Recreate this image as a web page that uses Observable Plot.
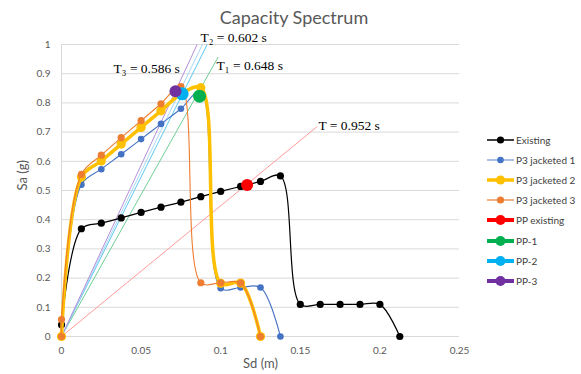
<!DOCTYPE html>
<html><head><meta charset="utf-8">
<script src="https://cdn.jsdelivr.net/npm/d3@7"></script>
<script src="https://cdn.jsdelivr.net/npm/@observablehq/plot@0.6"></script>
<style>
body{margin:0;background:#fff;}
#wrap{position:relative;width:581px;height:374px;font-family:Lato,"Open Sans",sans-serif;}
#title{position:absolute;left:0;width:588px;top:6px;text-align:center;font-size:18px;color:#595959;}
#legend{position:absolute;left:487px;top:130px;font-size:10px;color:#404040;}
.li{height:20.1px;display:flex;align-items:center;}
.li svg{margin-right:2px;}
</style></head>
<body><div id="wrap"><div id="chart"></div><div id="title">Capacity Spectrum</div><div id="legend"></div></div>
<script>
const existingSd = [0,0.0125,0.025,0.0375,0.05,0.0625,0.075,0.0875,0.1,0.1125,0.125,0.1375,0.15,0.1625,0.175,0.1875,0.2,0.2125];
const existingSa = [0.04,0.369,0.388,0.406,0.425,0.443,0.46,0.479,0.497,0.514,0.531,0.55,0.11,0.11,0.11,0.11,0.11,0];
const j1Sd = [0,0.0125,0.025,0.0375,0.05,0.0625,0.075,0.0875,0.1,0.1125,0.125,0.1375];
const j1Sa = [0,0.52,0.573,0.624,0.676,0.728,0.78,0.84,0.165,0.168,0.168,0];
const j2Sd = [0,0.0125,0.025,0.0375,0.05,0.0625,0.075,0.0875,0.1,0.1125,0.125];
const j2Sa = [0,0.546,0.601,0.659,0.716,0.773,0.83,0.852,0.182,0.183,0];
const j3Sd = [0,0,0.0125,0.025,0.0375,0.05,0.0625,0.075,0.0875,0.1,0.1125,0.125];
const j3Sa = [0,0.058,0.555,0.621,0.681,0.739,0.797,0.856,0.184,0.184,0.183,0];
const ppNames = ["PP existing","PP-1","PP-2","PP-3"];
const ppSd = [0.1166,0.0867,0.0758,0.0716];
const ppSa = [0.519,0.823,0.831,0.84];
// period lines: origin to end point
const tlEndSd = [0.1606,0.0984,0.0915,0.0885,0.0852];
const tlEndSa = [0.719,0.957,1.0,1.0,1.0];
const tlColors = ["#ff9a9a","#6fcf97","#5bc8f0","#a9d8f5","#b48fd8"];
const labels = ["T = 0.952 s","T\u2081 = 0.648 s","T\u2082 = 0.602 s","T\u2083 = 0.586 s"];
const labelSd = [0.1614,0.0974,0.0873,0.0327];
const labelSa = [0.723,0.928,1.024,0.918];
const xTicks = [0,0.05,0.1,0.15,0.2,0.25];
const yTicks = [0,0.1,0.2,0.3,0.4,0.5,0.6,0.7,0.8,0.9,1];

const zip = (xs, ys) => xs.map((x,i)=>({x, y: ys[i]}));
const series = [
  {name:"Existing", data: zip(existingSd, existingSa), color:"#000000", sw:1.2, r:3.6},
  {name:"P3 jacketed 1", data: zip(j1Sd, j1Sa), color:"#4472c4", sw:1.1, r:3.3},
  {name:"P3 jacketed 2", data: zip(j2Sd, j2Sa), color:"#ffc000", sw:3.5, r:4.6},
  {name:"P3 jacketed 3", data: zip(j3Sd, j3Sa), color:"#ed7d31", sw:1.1, r:3.6}
];
const ppColors = ["#ff0000","#00b050","#00b0f0","#7030a0"];
const ppR = [6,6.5,6.5,6];
const pp = ppNames.map((n,i)=>({name:n, x:ppSd[i], y:ppSa[i], color:ppColors[i], r:ppR[i]}));
const tl = tlEndSd.map((x,i)=>({x1:0,y1:0,x2:x,y2:tlEndSa[i],color:tlColors[i]}));
const lab = labels.map((t,i)=>({t, x:labelSd[i], y:labelSa[i]}));

const marks = [
  Plot.ruleY(yTicks, {stroke:"#d9d9d9", strokeWidth:1}),
  Plot.ruleX([0], {stroke:"#d9d9d9", strokeWidth:1}),
  Plot.axisX(xTicks, {tickSize:0, tickPadding:10, tickFormat:d=>String(d), fontSize:10, fill:"#595959", label:null}),
  Plot.axisY(yTicks, {tickSize:0, tickPadding:11, tickFormat:d=>String(d), fontSize:10, fill:"#595959", label:null}),
  Plot.link(tl, {x1:"x1", y1:"y1", x2:"x2", y2:"y2", stroke:"color", strokeWidth:1}),
];
for (const s of series) {
  marks.push(Plot.line(s.data, {x:"x", y:"y", stroke:s.color, strokeWidth:s.sw, curve:"catmull-rom"}));
  marks.push(Plot.dot(s.data, {x:"x", y:"y", fill:s.color, r:s.r}));
}
marks.push(Plot.dot(pp, {x:"x", y:"y", fill:"color", r:"r"}));
marks.push(Plot.text(lab, {x:"x", y:"y", text:"t", textAnchor:"start", fontFamily:"Liberation Serif", fontSize:13.5, fill:"#000"}));
marks.push(Plot.text(["Sd (m)"], {frameAnchor:"bottom", dy:31, fontSize:13, fill:"#595959"}));
marks.push(Plot.text(["Sa (g)"], {frameAnchor:"left", dx:-39, rotate:-90, fontSize:13, fill:"#595959"}));

const chart = Plot.plot({
  width:581, height:374,
  marginLeft:61, marginRight:122, marginTop:44, marginBottom:38,
  x:{domain:[0,0.25]}, y:{domain:[0,1]},
  r:{type:"identity"}, color:{type:"identity"},
  style:{fontFamily:"Lato, 'Open Sans', sans-serif", background:"#fff", overflow:"visible"},
  marks
});
document.getElementById("chart").appendChild(chart);

const leg = document.getElementById("legend");
const legItems = series.map(s=>({name:s.name,color:s.color,sw:s.name==="P3 jacketed 2"?3.5:(s.name==="P3 jacketed 3"?2:1.5),r:s.r,op:s.name==="P3 jacketed 3"||s.name==="P3 jacketed 1"?0.6:1}))
  .concat(pp.map(p=>({name:p.name,color:p.color,sw:4,r:5,op:1})));
for (const it of legItems) {
  const d = document.createElement("div"); d.className="li";
  d.innerHTML = `<svg width="27" height="12"><line x1="0" y1="6" x2="27" y2="6" stroke="${it.color}" stroke-width="${it.sw}" stroke-opacity="${it.op}"/><circle cx="13.5" cy="6" r="${Math.min(it.r,5)}" fill="${it.color}"/></svg><span>${it.name}</span>`;
  leg.appendChild(d);
}
</script></body></html>
